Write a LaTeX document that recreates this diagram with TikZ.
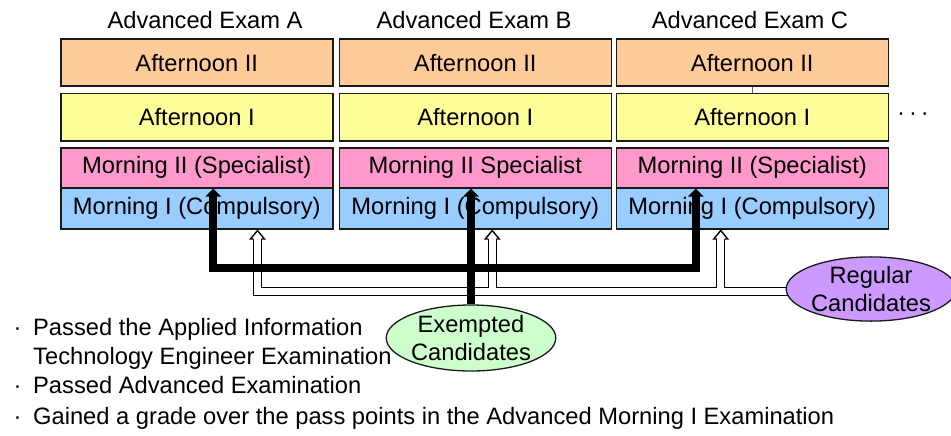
\documentclass[tikz,border=0pt]{standalone}
\usepackage{fontspec}
\setmainfont{Liberation Sans}
\usetikzlibrary{shapes.geometric,arrows.meta,calc}
\pgfdeclarelayer{front}
\pgfsetlayers{main,front}

\definecolor{aftII}{HTML}{FFCC99}
\definecolor{aftI}{HTML}{FFFF99}
\definecolor{mornII}{HTML}{FF99CC}
\definecolor{mornI}{HTML}{99CCFF}
\definecolor{exempt}{HTML}{CCFFCC}
\definecolor{regular}{HTML}{CC99FF}
\definecolor{edge}{HTML}{1A1A1A}

\tikzset{
  every node/.style={font=\fontsize{23.7pt}{28pt}\selectfont, inner sep=0pt},
  exbox/.style={draw=edge, line width=1.5pt, minimum width=272pt,
                anchor=north west},
  tallbox/.style={exbox, minimum height=47pt},
  lowbox/.style={exbox, minimum height=40pt},
  group/.style={ellipse, draw=edge, line width=1.3pt, align=center},
  solidarrow/.style={line width=8pt, line join=miter,
                     -{Triangle[width=15pt,length=8pt]}},
  hollowline/.style={draw=black, line width=1.4pt, double=white,
                     double distance=6.6pt, line join=miter},
  bullet/.style={anchor=base west},
}

\begin{document}
\begin{tikzpicture}[x=1pt,y=-1pt]
\useasboundingbox (0,0) rectangle (951,436);

% the three exam columns, each a stack of four sessions
\foreach \c/\x/\tx/\mII in {a/60/205/{Morning II (Specialist)},
                            b/338.5/474/{Morning II Specialist},
                            c/615.5/750/{Morning II (Specialist)}} {
  \node[tallbox, fill=aftII] (\c-a2) at (\x,38.5) {Afternoon II};
  \node[tallbox, fill=aftI]  (\c-a1) at (\x,93)   {Afternoon I};
  \node[lowbox,  fill=mornII] (\c-m2) at (\x,147) {\mII};
  \node[exbox, minimum height=41pt, fill=mornI] (\c-m1) at (\x,187)
       {Morning I (Compulsory)};
}
\node (ta) at (205,20) {Advanced Exam A};
\node (tb) at (474,20) {Advanced Exam B};
\node (tc) at (750,20) {Advanced Exam C};

\draw[draw=edge!70, line width=0.8pt] (c-a2.south) -- (c-a1.north);
\node (more) at (913,117) {·\,·\,·};

% candidate groups, kept above the connectors
\begin{pgfonlayer}{front}
  \node[group, fill=exempt, minimum width=164pt, minimum height=66pt]
       (ex) at (471,338) {Exempted\\Candidates};
  \node[group, fill=regular, minimum width=154pt, minimum height=62pt]
       (reg) at (871,289) {Regular\\Candidates};
\end{pgfonlayer}

% regular candidates: hollow arrows into Morning I
\coordinate (ha) at ($(a-m1.south)+(60.7,1)$);
\coordinate (hb) at ($(b-m1.south)+(17,1)$);
\coordinate (hc) at ($(c-m1.south)+(-31.5,1)$);
\coordinate (rl) at ($(reg.center)+(0,2.5)$);
\draw[hollowline] (rl) -| ($(ha)+(0,8.5)$)
      ($(hb)+(0,8.5)$) -- (hb |- rl)
      ($(hc)+(0,8.5)$) -- (hc |- rl);
\foreach \h in {ha,hb,hc} {
  \fill[white] ($(\h)+(-7,8.5)$) -- (\h) -- ($(\h)+(7,8.5)$) -- cycle;
  \draw[line width=1.4pt, line join=miter]
       ($(\h)+(-4,8.5)$) -- ($(\h)+(-7,8.5)$) -- (\h)
       -- ($(\h)+(7,8.5)$) -- ($(\h)+(4,8.5)$);
}

% exempted candidates: solid arrows into Morning II
\coordinate (hub) at (471,268);
\draw[solidarrow] (ex.north) -- (hub |- b-m2.south);
\draw[solidarrow] (hub) -| ($(a-m2.south)+(16.5,0)$);
\draw[solidarrow] (hub) -| ($(c-m2.south)+(-56.5,0)$);

% exemption conditions
\node[bullet] (l1) at (13.5,335) {\makebox[19.5pt][l]{·}Passed the Applied Information};
\node[bullet] (l2) at (33,364) {Technology Engineer Examination};
\node[bullet] (l3) at (13.5,393) {\makebox[19.5pt][l]{·}Passed Advanced Examination};
\node[bullet] (l4) at (13.5,424) {\makebox[19.5pt][l]{·}Gained a grade over the pass points in the Advanced Morning I Examination};
\end{tikzpicture}
\end{document}
